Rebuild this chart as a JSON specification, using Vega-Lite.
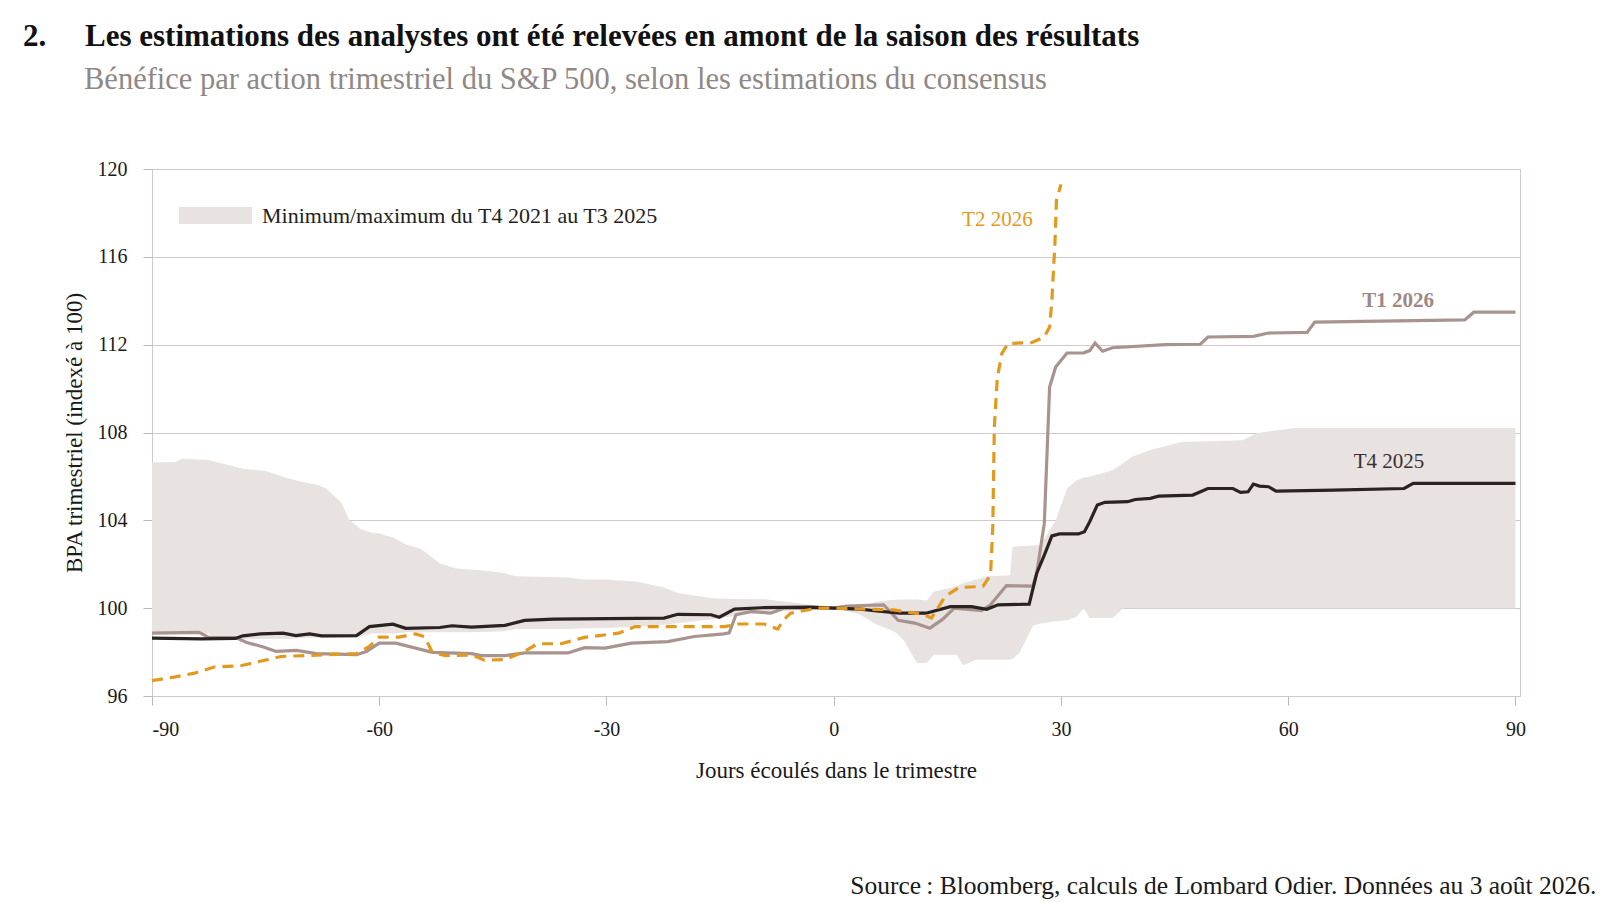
{
  "$schema": "https://vega.github.io/schema/vega-lite/v6.json",
  "autosize": {"type": "none"},
  "padding": {"left": 152, "top": 169, "right": 104, "bottom": 207},
  "width": 1368,
  "height": 527,
  "background": "white",
  "title": {
    "text": "2.\u00a0\u00a0\u00a0\u00a0\u00a0Les estimations des analystes ont été relevées en amont de la saison des résultats",
    "subtitle": "\u200b\u00a0\u00a0\u00a0\u00a0\u00a0\u00a0\u00a0\u00a0Bénéfice par action trimestriel du S&P 500, selon les estimations du consensus",
    "anchor": "start",
    "frame": "group",
    "dx": -129,
    "offset": 63,
    "font": "Liberation Serif",
    "fontSize": 31,
    "fontWeight": "bold",
    "color": "#111111",
    "subtitleFont": "Liberation Serif",
    "subtitleFontSize": 30.5,
    "subtitleColor": "#8f8886",
    "subtitlePadding": 12
  },
  "config": {
    "view": {"stroke": "#cfcaca", "strokeWidth": 1},
    "font": "Liberation Serif",
    "axis": {
      "labelFont": "Liberation Serif",
      "titleFont": "Liberation Serif",
      "labelColor": "#1a1a1a",
      "titleColor": "#1a1a1a",
      "labelFontSize": 20,
      "titleFontSize": 23,
      "titleFontWeight": "normal",
      "domainColor": "#bdb8b8",
      "tickColor": "#bdb8b8",
      "gridColor": "#cfcaca",
      "tickSize": 9
    }
  },
  "datasets": {
    "band": [
      {"day": -90, "lo": 98.85, "hi": 106.65},
      {"day": -87, "lo": 98.85, "hi": 106.65},
      {"day": -86, "lo": 98.85, "hi": 106.8},
      {"day": -82.5, "lo": 98.85, "hi": 106.75},
      {"day": -82, "lo": 98.6, "hi": 106.7},
      {"day": -78, "lo": 98.6, "hi": 106.35},
      {"day": -75, "lo": 98.6, "hi": 106.25},
      {"day": -72, "lo": 98.6, "hi": 105.9},
      {"day": -70, "lo": 98.65, "hi": 105.75},
      {"day": -68, "lo": 98.65, "hi": 105.6},
      {"day": -67, "lo": 98.65, "hi": 105.45},
      {"day": -65, "lo": 98.65, "hi": 104.8},
      {"day": -64, "lo": 98.65, "hi": 104.05},
      {"day": -62.5, "lo": 98.7, "hi": 103.6},
      {"day": -61, "lo": 98.85, "hi": 103.45},
      {"day": -60, "lo": 98.85, "hi": 103.4},
      {"day": -58, "lo": 98.85, "hi": 103.2},
      {"day": -56.5, "lo": 98.9, "hi": 102.9},
      {"day": -54.5, "lo": 98.9, "hi": 102.7},
      {"day": -52, "lo": 98.9, "hi": 102.05},
      {"day": -50, "lo": 98.9, "hi": 101.82},
      {"day": -46, "lo": 98.92, "hi": 101.7},
      {"day": -43.5, "lo": 98.95, "hi": 101.6},
      {"day": -42, "lo": 99.05, "hi": 101.45},
      {"day": -35, "lo": 99.05, "hi": 101.4},
      {"day": -33, "lo": 99.08, "hi": 101.3},
      {"day": -30, "lo": 99.1, "hi": 101.3},
      {"day": -26, "lo": 99.15, "hi": 101.2},
      {"day": -22.5, "lo": 99.25, "hi": 100.95},
      {"day": -20.5, "lo": 99.32, "hi": 100.68},
      {"day": -16, "lo": 99.5, "hi": 100.45},
      {"day": -13, "lo": 99.65, "hi": 100.42},
      {"day": -9, "lo": 99.8, "hi": 100.41},
      {"day": -3, "lo": 99.95, "hi": 100.15},
      {"day": 0, "lo": 100, "hi": 100},
      {"day": 2, "lo": 99.85, "hi": 100.05},
      {"day": 3.5, "lo": 99.7, "hi": 100.1},
      {"day": 5.7, "lo": 99.24, "hi": 100.3},
      {"day": 8, "lo": 98.94, "hi": 100.38},
      {"day": 9.2, "lo": 98.56, "hi": 100.4},
      {"day": 11, "lo": 97.5, "hi": 100.4},
      {"day": 12.3, "lo": 97.5, "hi": 100.35},
      {"day": 13.2, "lo": 97.88, "hi": 100.75},
      {"day": 16.2, "lo": 97.88, "hi": 101.0},
      {"day": 17.1, "lo": 97.4, "hi": 101.14},
      {"day": 18.8, "lo": 97.65, "hi": 101.3},
      {"day": 20.2, "lo": 97.65, "hi": 101.44},
      {"day": 23.3, "lo": 97.65, "hi": 101.5},
      {"day": 23.6, "lo": 97.7, "hi": 102.8},
      {"day": 24.5, "lo": 97.95, "hi": 102.82},
      {"day": 26.3, "lo": 99.2, "hi": 102.85},
      {"day": 27.3, "lo": 99.3, "hi": 102.88},
      {"day": 29.3, "lo": 99.4, "hi": 104.0},
      {"day": 30.8, "lo": 99.45, "hi": 105.45},
      {"day": 32, "lo": 99.6, "hi": 105.8},
      {"day": 33, "lo": 100.0, "hi": 105.95},
      {"day": 33.8, "lo": 99.55, "hi": 105.98},
      {"day": 36.8, "lo": 99.55, "hi": 106.28},
      {"day": 38.2, "lo": 100.0, "hi": 106.6},
      {"day": 39.4, "lo": 100.0, "hi": 106.89},
      {"day": 41.8, "lo": 100.0, "hi": 107.2},
      {"day": 45.9, "lo": 100.0, "hi": 107.57},
      {"day": 53.9, "lo": 100.0, "hi": 107.65},
      {"day": 55.9, "lo": 100.0, "hi": 107.98},
      {"day": 60.9, "lo": 100.0, "hi": 108.2},
      {"day": 90, "lo": 100.0, "hi": 108.2}
    ],
    "eps": [
      {"series": "T4 2025", "day": -90, "value": 98.64},
      {"series": "T4 2025", "day": -83.5, "value": 98.6},
      {"series": "T4 2025", "day": -79, "value": 98.62},
      {"series": "T4 2025", "day": -78, "value": 98.74},
      {"series": "T4 2025", "day": -75.7, "value": 98.83},
      {"series": "T4 2025", "day": -72.7, "value": 98.86},
      {"series": "T4 2025", "day": -71, "value": 98.75},
      {"series": "T4 2025", "day": -69.2, "value": 98.83},
      {"series": "T4 2025", "day": -67.6, "value": 98.74},
      {"series": "T4 2025", "day": -63, "value": 98.75},
      {"series": "T4 2025", "day": -61.3, "value": 99.16},
      {"series": "T4 2025", "day": -58.2, "value": 99.27},
      {"series": "T4 2025", "day": -56.5, "value": 99.08},
      {"series": "T4 2025", "day": -52, "value": 99.12},
      {"series": "T4 2025", "day": -50.4, "value": 99.2},
      {"series": "T4 2025", "day": -47.8, "value": 99.14},
      {"series": "T4 2025", "day": -43.4, "value": 99.22},
      {"series": "T4 2025", "day": -40.8, "value": 99.44},
      {"series": "T4 2025", "day": -37, "value": 99.5},
      {"series": "T4 2025", "day": -22.4, "value": 99.55},
      {"series": "T4 2025", "day": -20.6, "value": 99.72},
      {"series": "T4 2025", "day": -16.2, "value": 99.7},
      {"series": "T4 2025", "day": -15.1, "value": 99.59},
      {"series": "T4 2025", "day": -13.1, "value": 99.96},
      {"series": "T4 2025", "day": -9.5, "value": 100.02},
      {"series": "T4 2025", "day": -3, "value": 100.05},
      {"series": "T4 2025", "day": 0, "value": 100},
      {"series": "T4 2025", "day": 3.5, "value": 99.96},
      {"series": "T4 2025", "day": 5.7, "value": 99.87},
      {"series": "T4 2025", "day": 8.7, "value": 99.77},
      {"series": "T4 2025", "day": 12.2, "value": 99.77},
      {"series": "T4 2025", "day": 15.4, "value": 100.07},
      {"series": "T4 2025", "day": 18.2, "value": 100.07},
      {"series": "T4 2025", "day": 20.2, "value": 99.95},
      {"series": "T4 2025", "day": 21.7, "value": 100.15},
      {"series": "T4 2025", "day": 25.8, "value": 100.18},
      {"series": "T4 2025", "day": 26.8, "value": 101.59},
      {"series": "T4 2025", "day": 27.8, "value": 102.42},
      {"series": "T4 2025", "day": 28.8, "value": 103.29},
      {"series": "T4 2025", "day": 29.8, "value": 103.38},
      {"series": "T4 2025", "day": 32.3, "value": 103.38},
      {"series": "T4 2025", "day": 33.1, "value": 103.48},
      {"series": "T4 2025", "day": 33.8, "value": 103.94},
      {"series": "T4 2025", "day": 34.8, "value": 104.7},
      {"series": "T4 2025", "day": 35.8, "value": 104.82},
      {"series": "T4 2025", "day": 38.8, "value": 104.85},
      {"series": "T4 2025", "day": 39.8, "value": 104.95},
      {"series": "T4 2025", "day": 41.8, "value": 105.0},
      {"series": "T4 2025", "day": 42.9, "value": 105.1},
      {"series": "T4 2025", "day": 47.4, "value": 105.15},
      {"series": "T4 2025", "day": 49.4, "value": 105.45},
      {"series": "T4 2025", "day": 52.7, "value": 105.45},
      {"series": "T4 2025", "day": 53.7, "value": 105.27},
      {"series": "T4 2025", "day": 54.7, "value": 105.3},
      {"series": "T4 2025", "day": 55.4, "value": 105.65},
      {"series": "T4 2025", "day": 56.2, "value": 105.56},
      {"series": "T4 2025", "day": 57.4, "value": 105.53},
      {"series": "T4 2025", "day": 58.4, "value": 105.33},
      {"series": "T4 2025", "day": 66, "value": 105.38},
      {"series": "T4 2025", "day": 75.3, "value": 105.45},
      {"series": "T4 2025", "day": 76.5, "value": 105.68},
      {"series": "T4 2025", "day": 90, "value": 105.68},

      {"series": "T1 2026", "day": -90, "value": 98.86},
      {"series": "T1 2026", "day": -83.8, "value": 98.9},
      {"series": "T1 2026", "day": -82.5, "value": 98.67},
      {"series": "T1 2026", "day": -78.8, "value": 98.64},
      {"series": "T1 2026", "day": -77.5, "value": 98.44},
      {"series": "T1 2026", "day": -75.3, "value": 98.23},
      {"series": "T1 2026", "day": -73.6, "value": 98.03},
      {"series": "T1 2026", "day": -70.9, "value": 98.08},
      {"series": "T1 2026", "day": -68.3, "value": 97.93},
      {"series": "T1 2026", "day": -63, "value": 97.88},
      {"series": "T1 2026", "day": -61.7, "value": 98.03},
      {"series": "T1 2026", "day": -60, "value": 98.41},
      {"series": "T1 2026", "day": -57.8, "value": 98.41},
      {"series": "T1 2026", "day": -53, "value": 97.99},
      {"series": "T1 2026", "day": -47.8, "value": 97.93},
      {"series": "T1 2026", "day": -46.5, "value": 97.84},
      {"series": "T1 2026", "day": -43.4, "value": 97.84},
      {"series": "T1 2026", "day": -40.8, "value": 97.96},
      {"series": "T1 2026", "day": -35.1, "value": 97.96},
      {"series": "T1 2026", "day": -32.9, "value": 98.2},
      {"series": "T1 2026", "day": -30.2, "value": 98.18},
      {"series": "T1 2026", "day": -26.7, "value": 98.41},
      {"series": "T1 2026", "day": -21.9, "value": 98.48},
      {"series": "T1 2026", "day": -18.4, "value": 98.71},
      {"series": "T1 2026", "day": -14.5, "value": 98.83},
      {"series": "T1 2026", "day": -13.8, "value": 98.88},
      {"series": "T1 2026", "day": -12.9, "value": 99.7},
      {"series": "T1 2026", "day": -10.9, "value": 99.85},
      {"series": "T1 2026", "day": -8.3, "value": 99.77},
      {"series": "T1 2026", "day": -6.6, "value": 100},
      {"series": "T1 2026", "day": 0, "value": 100},
      {"series": "T1 2026", "day": 1.7, "value": 100.1},
      {"series": "T1 2026", "day": 6.6, "value": 100.15},
      {"series": "T1 2026", "day": 8.5, "value": 99.45},
      {"series": "T1 2026", "day": 10.7, "value": 99.32},
      {"series": "T1 2026", "day": 12.7, "value": 99.09},
      {"series": "T1 2026", "day": 14.4, "value": 99.5},
      {"series": "T1 2026", "day": 15.9, "value": 100},
      {"series": "T1 2026", "day": 19.5, "value": 99.89},
      {"series": "T1 2026", "day": 20.7, "value": 100.15},
      {"series": "T1 2026", "day": 22.8, "value": 101.03},
      {"series": "T1 2026", "day": 26.3, "value": 101.0},
      {"series": "T1 2026", "day": 26.8, "value": 101.59},
      {"series": "T1 2026", "day": 27.8, "value": 103.86},
      {"series": "T1 2026", "day": 28.5, "value": 110.07},
      {"series": "T1 2026", "day": 29.3, "value": 110.98},
      {"series": "T1 2026", "day": 30.8, "value": 111.62},
      {"series": "T1 2026", "day": 33, "value": 111.63},
      {"series": "T1 2026", "day": 33.8, "value": 111.73},
      {"series": "T1 2026", "day": 34.5, "value": 112.07},
      {"series": "T1 2026", "day": 35.5, "value": 111.7},
      {"series": "T1 2026", "day": 36.8, "value": 111.86},
      {"series": "T1 2026", "day": 43.8, "value": 112.0},
      {"series": "T1 2026", "day": 48.4, "value": 112.02},
      {"series": "T1 2026", "day": 49.4, "value": 112.35},
      {"series": "T1 2026", "day": 55.4, "value": 112.38},
      {"series": "T1 2026", "day": 57.4, "value": 112.53},
      {"series": "T1 2026", "day": 62.5, "value": 112.56},
      {"series": "T1 2026", "day": 63.5, "value": 113.03},
      {"series": "T1 2026", "day": 83.3, "value": 113.13},
      {"series": "T1 2026", "day": 84.5, "value": 113.48},
      {"series": "T1 2026", "day": 90, "value": 113.48},

      {"series": "T2 2026", "day": -90, "value": 96.7},
      {"series": "T2 2026", "day": -87.1, "value": 96.86},
      {"series": "T2 2026", "day": -84.4, "value": 97.04},
      {"series": "T2 2026", "day": -81.8, "value": 97.32},
      {"series": "T2 2026", "day": -78.3, "value": 97.38},
      {"series": "T2 2026", "day": -75.7, "value": 97.58},
      {"series": "T2 2026", "day": -73, "value": 97.8},
      {"series": "T2 2026", "day": -67, "value": 97.88},
      {"series": "T2 2026", "day": -63, "value": 97.93},
      {"series": "T2 2026", "day": -61.3, "value": 98.26},
      {"series": "T2 2026", "day": -60, "value": 98.68},
      {"series": "T2 2026", "day": -57.4, "value": 98.68},
      {"series": "T2 2026", "day": -55.2, "value": 98.83},
      {"series": "T2 2026", "day": -54, "value": 98.7},
      {"series": "T2 2026", "day": -53, "value": 97.99},
      {"series": "T2 2026", "day": -51.3, "value": 97.84},
      {"series": "T2 2026", "day": -47.8, "value": 97.87},
      {"series": "T2 2026", "day": -46.1, "value": 97.63},
      {"series": "T2 2026", "day": -43.4, "value": 97.66},
      {"series": "T2 2026", "day": -40.8, "value": 98.04},
      {"series": "T2 2026", "day": -39.1, "value": 98.38},
      {"series": "T2 2026", "day": -36, "value": 98.38},
      {"series": "T2 2026", "day": -32.9, "value": 98.67},
      {"series": "T2 2026", "day": -28.4, "value": 98.86},
      {"series": "T2 2026", "day": -26.2, "value": 99.16},
      {"series": "T2 2026", "day": -14.4, "value": 99.16},
      {"series": "T2 2026", "day": -12.6, "value": 99.28},
      {"series": "T2 2026", "day": -9.2, "value": 99.28},
      {"series": "T2 2026", "day": -7.4, "value": 99.05},
      {"series": "T2 2026", "day": -6.6, "value": 99.47},
      {"series": "T2 2026", "day": -5.7, "value": 99.77},
      {"series": "T2 2026", "day": -2.2, "value": 100},
      {"series": "T2 2026", "day": 0, "value": 100},
      {"series": "T2 2026", "day": 7.9, "value": 99.92},
      {"series": "T2 2026", "day": 11.8, "value": 99.72},
      {"series": "T2 2026", "day": 12.9, "value": 99.55},
      {"series": "T2 2026", "day": 14.7, "value": 100.53},
      {"series": "T2 2026", "day": 16.5, "value": 100.94},
      {"series": "T2 2026", "day": 19.7, "value": 100.99},
      {"series": "T2 2026", "day": 20.7, "value": 101.51},
      {"series": "T2 2026", "day": 21.0, "value": 103.7},
      {"series": "T2 2026", "day": 21.2, "value": 108.25},
      {"series": "T2 2026", "day": 21.6, "value": 110.5},
      {"series": "T2 2026", "day": 22.2, "value": 111.6},
      {"series": "T2 2026", "day": 23, "value": 112.05},
      {"series": "T2 2026", "day": 26.2, "value": 112.1},
      {"series": "T2 2026", "day": 27.8, "value": 112.35},
      {"series": "T2 2026", "day": 28.5, "value": 112.8},
      {"series": "T2 2026", "day": 28.8, "value": 114.0},
      {"series": "T2 2026", "day": 29.2, "value": 116.6},
      {"series": "T2 2026", "day": 29.4, "value": 118.56},
      {"series": "T2 2026", "day": 30.0, "value": 119.3}
    ],
    "labels": [
      {"series": "T2 2026", "day": 21.6, "value": 117.7},
      {"series": "T1 2026", "day": 74.5, "value": 114.0},
      {"series": "T4 2025", "day": 73.3, "value": 106.65}
    ],
    "notes": [
      {"note": "Source\u202f: Bloomberg, calculs de Lombard Odier. Données au 3 août 2026.", "day": 90, "value": 96}
    ]
  },
  "encoding": {
    "x": {
      "field": "day",
      "type": "quantitative",
      "scale": {"domain": [-90, 90.6], "nice": false, "zero": false},
      "axis": {
        "title": "Jours écoulés dans le trimestre",
        "values": [-90, -60, -30, 0, 30, 60, 90],
        "labelExpr": "'' + datum.value",
        "grid": false,
        "domain": false,
        "labelPadding": 14,
        "titlePadding": 20
      }
    },
    "y": {
      "field": "value",
      "type": "quantitative",
      "scale": {"domain": [96, 120], "nice": false, "zero": false},
      "axis": {
        "title": "BPA trimestriel (indexé à 100)",
        "values": [96, 100, 104, 108, 112, 116, 120],
        "grid": true,
        "domain": false,
        "labelPadding": 16,
        "titlePadding": 11
      }
    }
  },
  "layer": [
    {
      "data": {"name": "band"},
      "mark": {"type": "area", "opacity": 1},
      "encoding": {
        "y": {"field": "hi", "type": "quantitative"},
        "y2": {"field": "lo"},
        "fill": {
          "datum": "Minimum/maximum du T4 2021 au T3 2025",
          "type": "nominal",
          "scale": {"range": ["#e8e2e1"]},
          "legend": {
            "title": null,
            "orient": "none",
            "legendX": 27,
            "legendY": 10,
            "symbolType": "M-1,-0.23H1V0.23H-1Z",
            "symbolSize": 5329,
            "symbolStrokeWidth": 0,
            "symbolOpacity": 1,
            "labelFont": "Liberation Serif",
            "labelFontSize": 22,
            "labelColor": "#222222",
            "labelOffset": 10,
            "labelLimit": 0
          }
        }
      }
    },
    {
      "data": {"name": "eps"},
      "transform": [{"filter": "datum.series == 'T1 2026'"}],
      "mark": {"type": "line", "color": "#a8938f", "strokeWidth": 3.2},
      "encoding": {}
    },
    {
      "data": {"name": "eps"},
      "transform": [{"filter": "datum.series == 'T4 2025'"}],
      "mark": {"type": "line", "color": "#2b2222", "strokeWidth": 3.2},
      "encoding": {}
    },
    {
      "data": {"name": "eps"},
      "transform": [{"filter": "datum.series == 'T2 2026'"}],
      "mark": {"type": "line", "color": "#e3991d", "strokeWidth": 3.2, "strokeDash": [11, 7]},
      "encoding": {}
    },
    {
      "data": {"name": "labels"},
      "transform": [{"filter": "datum.series != 'T1 2026'"}],
      "mark": {"type": "text", "font": "Liberation Serif", "fontSize": 21, "align": "center", "baseline": "middle"},
      "encoding": {
        "text": {"field": "series", "type": "nominal"},
        "color": {
          "field": "series",
          "type": "nominal",
          "scale": {"domain": ["T2 2026", "T4 2025"], "range": ["#e3991d", "#3a3030"]},
          "legend": null
        }
      }
    },
    {
      "data": {"name": "labels"},
      "transform": [{"filter": "datum.series == 'T1 2026'"}],
      "mark": {"type": "text", "font": "Liberation Serif", "fontSize": 21, "fontWeight": "bold", "color": "#9c8985", "align": "center", "baseline": "middle"},
      "encoding": {
        "text": {"field": "series", "type": "nominal"}
      }
    },
    {
      "data": {"name": "notes"},
      "mark": {"type": "text", "font": "Liberation Serif", "fontSize": 25.5, "color": "#1a1a1a", "align": "right", "baseline": "alphabetic", "dx": 81, "dy": 198, "clip": false},
      "encoding": {
        "text": {"field": "note", "type": "nominal"}
      }
    }
  ]
}
